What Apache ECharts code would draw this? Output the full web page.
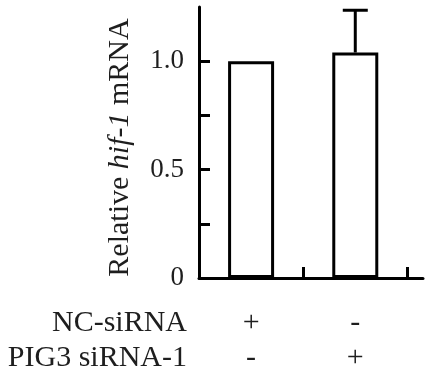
<!DOCTYPE html>
<html>
<head>
<meta charset="utf-8">
<script src="https://cdn.jsdelivr.net/npm/echarts@6/dist/echarts.min.js"></script>
<style>html,body{margin:0;padding:0;background:#fff;}#c{width:425px;height:383px;}</style>
</head>
<body>
<div id="c"></div>
<script>
// Data
const conditionRows = ['NC-siRNA', 'PIG3 siRNA-1'];
const ncSign = ['+', '-'];
const pigSign = ['-', '+'];
const means = [1.0, 1.04];
const errUpper = [0, 0.195];
const yTickLabels = ['0', '0.5', '1.0'];
const yTickValues = [0, 0.5, 1.0];

const FONT = 'Liberation Serif';
const TXT = '#1e1e1e';

const barData = means.map((v, i) => [i + 0.5, v]);
const errData = means.map((v, i) => [i + 0.5, v, v + errUpper[i]]).filter(d => d[2] > d[1]);

const chart = echarts.init(document.getElementById('c'));
chart.setOption({
  animation: false,
  backgroundColor: '#fff',
  grid: { left: 199, right: 2, top: 7, bottom: 105 },
  xAxis: {
    type: 'value', min: 0, max: 2.15,
    splitLine: { show: false },
    axisLine: { show: true, lineStyle: { color: '#000', width: 3 } },
    axisTick: { show: true, inside: true, length: 11, customValues: [1, 2], lineStyle: { color: '#000', width: 3 } },
    axisLabel: {
      customValues: means.map((v, i) => i + 0.5),
      formatter: v => { const i = Math.floor(v); return ncSign[i] + '\n' + pigSign[i]; },
      fontFamily: FONT, fontSize: 30, lineHeight: 35, color: TXT, margin: 28
    }
  },
  yAxis: {
    type: 'value', min: 0, max: 1.25, interval: 0.25,
    splitLine: { show: false },
    axisLine: { show: true, lineStyle: { color: '#000', width: 3 } },
    axisTick: { show: true, inside: true, length: 11, customValues: [0.25, 0.5, 0.75, 1.0], lineStyle: { color: '#000', width: 3 } },
    axisLabel: {
      customValues: yTickValues,
      formatter: v => yTickLabels[yTickValues.indexOf(v)],
      fontFamily: FONT, fontSize: 27, color: TXT, margin: 15
    },
    name: '{n|Relative }{i|hif-1}{n| mRNA}',
    nameLocation: 'middle', nameGap: 64, nameRotate: 90,
    nameTextStyle: {
      padding: [0, 10, 0, 0],
      rich: {
        n: { fontFamily: FONT, fontSize: 30, color: TXT },
        i: { fontFamily: FONT, fontSize: 30, fontStyle: 'italic', color: TXT }
      }
    }
  },
  graphic: conditionRows.map((t, k) => ({
    type: 'text', right: 425 - 187, top: 308 + k * 35,
    style: { text: t, fontFamily: FONT, fontSize: 30, fill: TXT, textAlign: 'right' }
  })),
  series: [
    {
      type: 'bar', data: barData, barWidth: 46,
      itemStyle: { color: '#fff', borderColor: '#000', borderWidth: 3 }
    },
    {
      type: 'custom', data: errData, z: 3,
      renderItem: (params, api) => {
        const x = api.value(0);
        const lo = api.coord([x, api.value(1)]);
        const hi = api.coord([x, api.value(2)]);
        const style = { stroke: '#000', lineWidth: 3 };
        return { type: 'group', children: [
          { type: 'line', shape: { x1: lo[0], y1: lo[1], x2: hi[0], y2: hi[1] }, style },
          { type: 'line', shape: { x1: hi[0] - 12.5, y1: hi[1], x2: hi[0] + 12.5, y2: hi[1] }, style }
        ]};
      }
    }
  ]
});
</script>
</body>
</html>
